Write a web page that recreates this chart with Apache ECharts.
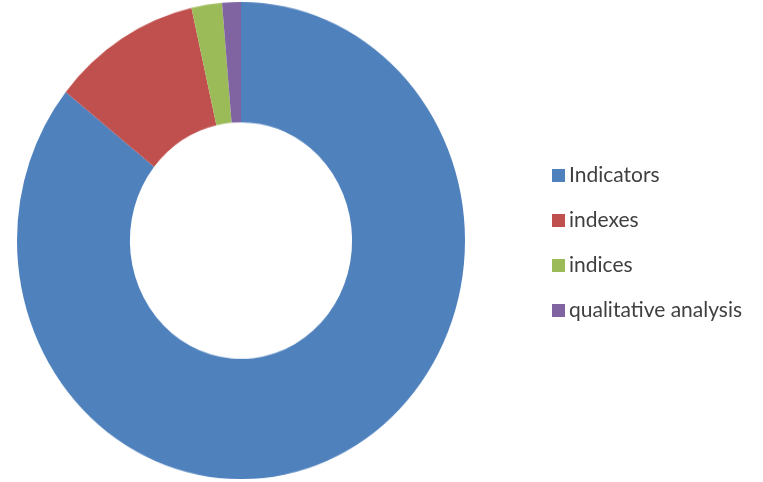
<!DOCTYPE html>
<html>
<head>
<meta charset="utf-8">
<script src="https://cdn.jsdelivr.net/npm/echarts@6/dist/echarts.min.js"></script>
<style>
html,body{margin:0;padding:0;background:#fff;}
#wrap{position:relative;width:763px;height:482px;overflow:hidden;}
#pie{position:absolute;left:17px;top:2px;width:448px;height:448px;transform:scaleY(1.065);transform-origin:0 0;}
#leg{position:absolute;left:0;top:0;width:763px;height:482px;}
</style>
</head>
<body>
<div id="wrap"><div id="leg"></div><div id="pie"></div></div>
<script>
const categories = ['Indicators', 'indexes', 'indices', 'qualitative analysis'];
const values = [85.7, 10.75, 2.2, 1.35];
const colors = ['#4F81BD', '#C0504D', '#9BBB59', '#8064A2'];

const data = categories.map((c, i) => ({ name: c, value: values[i], itemStyle: { color: colors[i] } }));

const pie = echarts.init(document.getElementById('pie'), null, { renderer: 'canvas' });
pie.setOption({
  animation: false,
  series: [{
    type: 'pie',
    center: ['50%', '50%'],
    radius: ['49.6%', '100%'],
    startAngle: 90,
    clockwise: true,
    label: { show: false },
    labelLine: { show: false },
    emphasis: { disabled: true },
    data: data
  }]
});

const leg = echarts.init(document.getElementById('leg'), null, { renderer: 'canvas' });
leg.setOption({
  animation: false,
  legend: {
    orient: 'vertical',
    left: 547,
    top: 160,
    itemWidth: 13,
    itemHeight: 13,
    itemGap: 24,
    icon: 'rect',
    textStyle: { fontFamily: 'Lato', fontSize: 21, lineHeight: 20, color: '#404040', padding: [0, 0, 0, -1] },
    data: categories
  },
  series: [{
    type: 'pie',
    radius: [0, 0],
    center: [-100, -100],
    silent: true,
    label: { show: false },
    labelLine: { show: false },
    data: data
  }]
});
</script>
</body>
</html>
